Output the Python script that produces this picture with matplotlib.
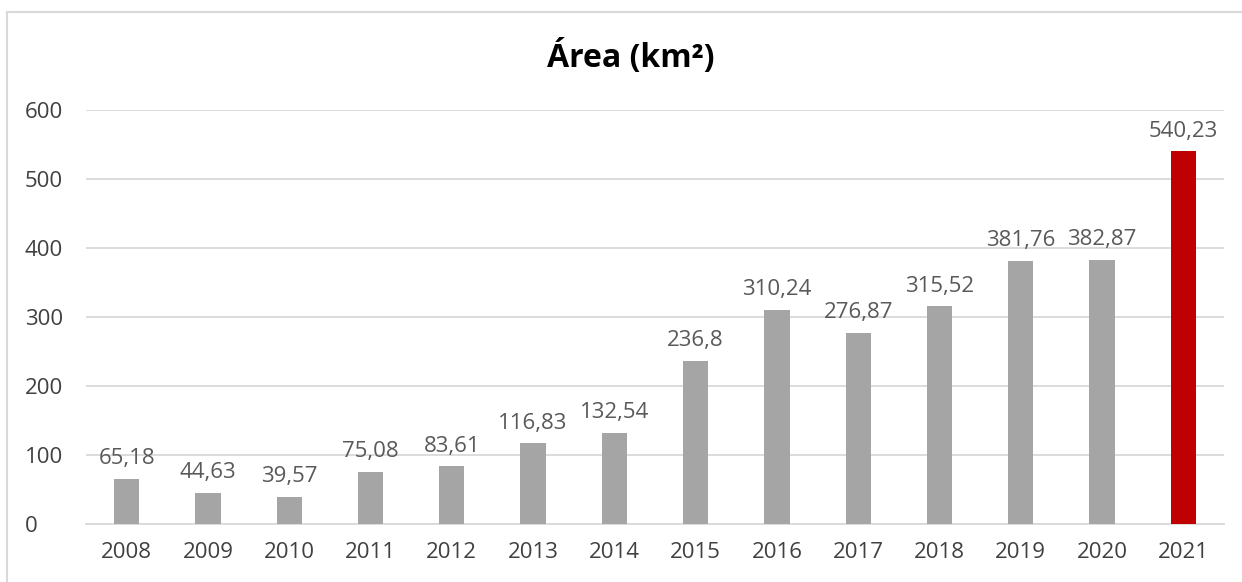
import matplotlib
matplotlib.use("Agg")
import matplotlib.pyplot as plt
from matplotlib.patches import Rectangle

years = ["2008", "2009", "2010", "2011", "2012", "2013", "2014",
         "2015", "2016", "2017", "2018", "2019", "2020", "2021"]
area = [65.18, 44.63, 39.57, 75.08, 83.61, 116.83, 132.54,
        236.8, 310.24, 276.87, 315.52, 381.76, 382.87, 540.23]
labels = ["65,18", "44,63", "39,57", "75,08", "83,61", "116,83", "132,54",
          "236,8", "310,24", "276,87", "315,52", "381,76", "382,87", "540,23"]
yticks = [0, 100, 200, 300, 400, 500, 600]

plt.rcParams['font.family'] = ['Open Sans', 'DejaVu Sans']

fig = plt.figure(figsize=(12.42, 5.82), dpi=100)
ax = fig.add_axes([86/1242, 1-524/582, (1224-86)/1242, (524-110)/582])

colors = ['#A5A5A5'] * (len(years) - 1) + ['#C00000']
x = list(range(len(years)))
ax.bar(x, area, width=0.31, color=colors, zorder=3)

for xi, v, lab in zip(x, area, labels):
    ax.annotate(lab, (xi, v), xytext=(0, 7), textcoords='offset points',
                ha='center', va='bottom', fontsize=16, color='#595959')

ax.set_xlim(-0.5, len(years) - 0.5)
ax.set_ylim(0, 600)
ax.set_yticks(yticks)
ax.set_xticks(x)
ax.set_xticklabels(years)
ax.yaxis.grid(True, color='#D9D9D9', linewidth=1.3, zorder=0)
ax.tick_params(axis='both', length=0, labelsize=16, colors='#404040')
ax.tick_params(axis='y', pad=44)
ax.tick_params(axis='x', pad=13)
for lab in ax.get_yticklabels():
    lab.set_horizontalalignment('left')
for s in ['top', 'right', 'left']:
    ax.spines[s].set_visible(False)
ax.spines['bottom'].set_color('#D9D9D9')
ax.spines['bottom'].set_linewidth(1.3)

fig.text(631/1242, 1-58/582, "Área (km²)", ha='center', va='center',
         fontsize=23, fontweight='bold', color='#000000')

fig.patches.append(Rectangle((7/1242, -0.05), 1.2, 1 - 12/582 + 0.05,
                             transform=fig.transFigure, fill=False,
                             edgecolor='#D9D9D9', linewidth=1.5))

fig.savefig("out.png", dpi=100)
